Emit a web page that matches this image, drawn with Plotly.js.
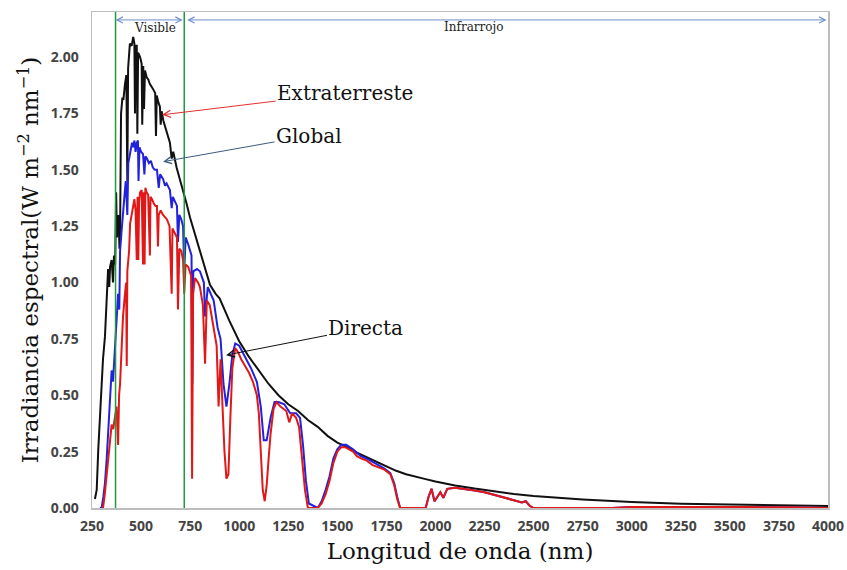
<!DOCTYPE html>
<html>
<head>
<meta charset="utf-8">
<script src="https://cdn.plot.ly/plotly-3.0.1.min.js"></script>
<style>html,body{margin:0;padding:0;background:#fff;}#chart{width:847px;height:570px;}</style>
</head>
<body>
<div id="chart"></div>
<script>
// Extraterrestrial spectrum (black)
const extraNm = [265,274,282,291,299,306,316,325,332,338,342,350,357,362,368,373,377,385,390,393,398,405,410,418,425,430,434,443,452,460,466,469,472,478,481,485,495,503,506,511,515,520,529,537,545,560,572,576,580,588,596,600,605,613,630,647,656,664,681,698,715,732,749,766,783,800,817,851,880,900,950,1000,1050,1100,1150,1200,1250,1300,1350,1400,1450,1500,1550,1600,1650,1700,1750,1800,1850,1900,1950,2000,2100,2200,2300,2400,2500,2600,2750,3000,3250,3500,3750,4000];
const extraVal = [0.04,0.08,0.26,0.43,0.55,0.66,0.76,0.92,1.06,0.98,1.07,1.10,1.00,1.12,1.08,1.40,1.20,1.30,1.15,1.22,1.75,1.82,1.81,1.88,1.92,1.45,1.95,2.06,2.05,2.09,2.06,1.75,2.05,2.05,1.66,2.02,2.00,1.97,1.70,1.96,1.77,1.94,1.91,1.90,1.88,1.86,1.84,1.65,1.83,1.80,1.78,1.70,1.76,1.72,1.67,1.62,1.55,1.58,1.51,1.46,1.40,1.35,1.29,1.24,1.19,1.14,1.08,0.99,0.95,0.93,0.83,0.74,0.67,0.61,0.55,0.50,0.46,0.43,0.39,0.36,0.32,0.29,0.27,0.245,0.225,0.205,0.185,0.165,0.15,0.138,0.128,0.118,0.10,0.086,0.073,0.062,0.053,0.046,0.038,0.027,0.019,0.015,0.012,0.009];

// Global spectrum (blue)
const globalNm = [290,299,308,316,325,332,342,350,357,367,376,383,389,393,400,408,415,422,430,435,442,448,454,460,466,472,478,484,487,492,500,510,517,522,530,540,550,560,570,581,590,597,605,612,622,630,647,656,662,672,683,688,695,705,714,720,727,740,749,757,761,766,785,800,820,826,840,870,890,905,920,935,950,965,980,1000,1030,1060,1090,1110,1125,1140,1160,1180,1200,1230,1260,1290,1310,1325,1340,1355,1400,1420,1440,1460,1480,1500,1520,1545,1580,1620,1660,1700,1740,1770,1790,1805,1820,1950,1965,1980,1995,2010,2025,2040,2060,2100,2150,2200,2250,2300,2350,2400,2440,2460,2480,2500,2900,3000,3300,3600,3800,4000];
const globalVal = [0.0,0.0,0.05,0.11,0.22,0.34,0.52,0.61,0.56,0.70,0.85,0.95,0.88,1.14,1.22,1.29,1.38,1.45,1.30,1.53,1.57,1.60,1.62,1.60,1.63,1.58,1.62,1.63,1.45,1.60,1.58,1.57,1.48,1.56,1.55,1.53,1.54,1.51,1.50,1.50,1.42,1.48,1.47,1.46,1.43,1.44,1.41,1.33,1.38,1.36,1.34,1.18,1.30,1.28,1.25,1.05,1.20,1.17,1.14,1.12,0.55,1.05,1.06,1.05,1.00,0.85,0.98,0.92,0.80,0.75,0.55,0.45,0.55,0.68,0.73,0.72,0.67,0.62,0.56,0.45,0.30,0.30,0.40,0.47,0.47,0.46,0.42,0.42,0.40,0.28,0.12,0.02,0.0,0.03,0.08,0.14,0.22,0.26,0.28,0.28,0.26,0.23,0.215,0.195,0.175,0.155,0.11,0.05,0.0,0.0,0.05,0.085,0.03,0.05,0.07,0.045,0.085,0.09,0.085,0.078,0.07,0.058,0.047,0.036,0.025,0.03,0.01,0.0,0.0,0.004,0.005,0.004,0.003,0.0];

// Direct spectrum (red)
const directNm = [300,306,315,325,332,342,350,358,367,375,383,388,393,400,408,418,424,427,430,439,444,452,459,466,472,478,482,486,490,495,503,510,513,518,522,528,536,545,548,556,565,573,581,586,590,600,612,622,632,645,656,660,672,683,688,695,705,714,720,727,740,749,755,760,765,775,790,800,815,826,835,850,870,885,895,905,915,925,935,945,955,965,980,995,1010,1030,1050,1070,1090,1100,1110,1120,1130,1140,1150,1160,1175,1190,1210,1225,1240,1255,1270,1290,1305,1320,1335,1350,1400,1420,1440,1460,1480,1500,1520,1540,1560,1580,1600,1620,1650,1680,1710,1740,1770,1790,1805,1820,1950,1965,1980,1995,2010,2025,2040,2060,2100,2150,2200,2250,2300,2350,2400,2440,2460,2480,2500,2900,3000,3300,3600,3800,4000];
const directVal = [0.0,0.0,0.06,0.15,0.22,0.31,0.37,0.35,0.40,0.45,0.28,0.50,0.55,0.70,0.85,0.95,1.00,0.63,1.05,1.14,1.26,1.30,1.34,1.37,1.32,1.10,1.38,1.10,1.36,1.40,1.41,1.08,1.40,1.08,1.42,1.40,1.39,1.12,1.38,1.37,1.35,1.34,1.34,1.16,1.30,1.32,1.30,1.29,1.28,1.25,0.95,1.24,1.22,1.20,0.88,1.15,1.14,1.10,0.95,1.08,1.07,1.05,1.03,0.13,0.95,1.02,1.00,0.98,0.90,0.64,0.92,0.90,0.80,0.72,0.45,0.66,0.45,0.25,0.13,0.15,0.40,0.62,0.71,0.69,0.66,0.63,0.60,0.56,0.50,0.42,0.25,0.08,0.03,0.10,0.22,0.33,0.44,0.47,0.45,0.44,0.43,0.38,0.42,0.40,0.36,0.22,0.08,0.0,0.0,0.02,0.06,0.12,0.20,0.25,0.27,0.27,0.26,0.25,0.23,0.22,0.21,0.19,0.18,0.17,0.15,0.10,0.04,0.0,0.0,0.05,0.085,0.03,0.05,0.07,0.045,0.085,0.09,0.085,0.078,0.07,0.058,0.047,0.036,0.025,0.03,0.01,0.0,0.0,0.004,0.005,0.004,0.003,0.0];

// Region boundaries (nm) and tick labels
const regionBounds = [370, 720, 4000];
const xTicks = [250,500,750,1000,1250,1500,1750,2000,2250,2500,2750,3000,3250,3500,3750,4000];
const yTicks = [0,0.25,0.5,0.75,1.0,1.25,1.5,1.75,2.0];
const yTickText = ['0.00','0.25','0.50','0.75','1.00','1.25','1.50','1.75','2.00'];

const traces = [
  {x: extraNm, y: extraVal, type:'scatter', mode:'lines', line:{color:'#111111', width:2}, name:'Extraterreste'},
  {x: globalNm, y: globalVal, type:'scatter', mode:'lines', line:{color:'#2222dd', width:2}, name:'Global'},
  {x: directNm, y: directVal, type:'scatter', mode:'lines', line:{color:'#e01818', width:2}, name:'Directa'}
];

const serif = 'DejaVu Serif, serif';
const arrowBlue = '#6f8fc8';
const labelFont = {family:serif, size:20, color:'#111'};
const annotations = [
  // region arrows (double headed)
  {x: regionBounds[0], y: 0.984, xref:'x', yref:'paper', ax: regionBounds[1], ay: 0.984, axref:'x', ayref:'paper',
   text:'', showarrow:true, arrowside:'end+start', arrowhead:5, startarrowhead:5, arrowsize:1.2, startarrowsize:1.2, arrowwidth:1, arrowcolor:arrowBlue},
  {x: regionBounds[1]+15, y: 0.984, xref:'x', yref:'paper', ax: regionBounds[2], ay: 0.984, axref:'x', ayref:'paper',
   text:'', showarrow:true, arrowside:'end+start', arrowhead:5, startarrowhead:5, arrowsize:1.2, startarrowsize:1.2, arrowwidth:1, arrowcolor:arrowBlue},
  {x: 571, y: 2.13, xref:'x', yref:'y', text:'Visible', showarrow:false, font:{family:serif, size:12, color:'#222'}},
  {x: 2196, y: 2.135, xref:'x', yref:'y', text:'Infrarrojo', showarrow:false, font:{family:serif, size:12, color:'#222'}},
  // labels with their arrows (arrow tail at the text, head on the curve)
  {x: 607, y: 1.744, xref:'x', yref:'y', ax: 1540, ay: 1.842, axref:'x', ayref:'y', text:'Extraterreste', font:labelFont,
   showarrow:true, arrowhead:5, arrowsize:1.4, arrowwidth:1, arrowcolor:'#e03030', standoff:0},
  {x: 612, y: 1.536, xref:'x', yref:'y', ax: 1356, ay: 1.651, axref:'x', ayref:'y', text:'Global', font:labelFont,
   showarrow:true, arrowhead:5, arrowsize:1.4, arrowwidth:1, arrowcolor:'#3d5a80', standoff:0},
  {x: 933, y: 0.678, xref:'x', yref:'y', ax: 1646, ay: 0.80, axref:'x', ayref:'y', text:'Directa', font:labelFont,
   showarrow:true, arrowhead:5, arrowsize:1.4, arrowwidth:1, arrowcolor:'#111', standoff:0}
];

const shapes = [regionBounds[0], regionBounds[1]].map(v => ({
  type:'line', xref:'x', yref:'paper', x0:v, x1:v, y0:0, y1:1, line:{color:'#1f9a3f', width:1.5}
}));

const layout = {
  width: 847, height: 570,
  margin: {l:92, r:19, t:12, b:62, pad:0},
  paper_bgcolor:'#ffffff', plot_bgcolor:'#ffffff',
  showlegend:false,
  xaxis: {
    range:[250,4000], tickvals:xTicks, ticktext:xTicks.map(String),
    showgrid:false, zeroline:false, showline:true, mirror:true, linecolor:'#bdbdbd', linewidth:1.5,
    ticks:'', ticklabelstandoff:5,
    tickfont:{family:'Open Sans, sans-serif', size:14, color:'#444', weight:'bold'},
    title:{text:'Longitud de onda (nm)', font:{family:serif, size:23, color:'#111'}, standoff:8}
  },
  yaxis: {
    range:[0,2.2], tickvals:yTicks, ticktext:yTickText,
    showgrid:false, zeroline:false, showline:true, mirror:true, linecolor:'#bdbdbd', linewidth:1.5,
    ticks:'', ticklabelstandoff:9,
    tickfont:{family:'Open Sans, sans-serif', size:14, color:'#444', weight:'bold'},
    title:{text:'Irradiancia espectral(W m<sup>−2</sup> nm<sup>−1</sup>)', font:{family:serif, size:23, color:'#111'}, standoff:5}
  },
  annotations: annotations,
  shapes: shapes
};

Plotly.newPlot('chart', traces, layout, {displayModeBar:false, staticPlot:true});
</script>
</body>
</html>
